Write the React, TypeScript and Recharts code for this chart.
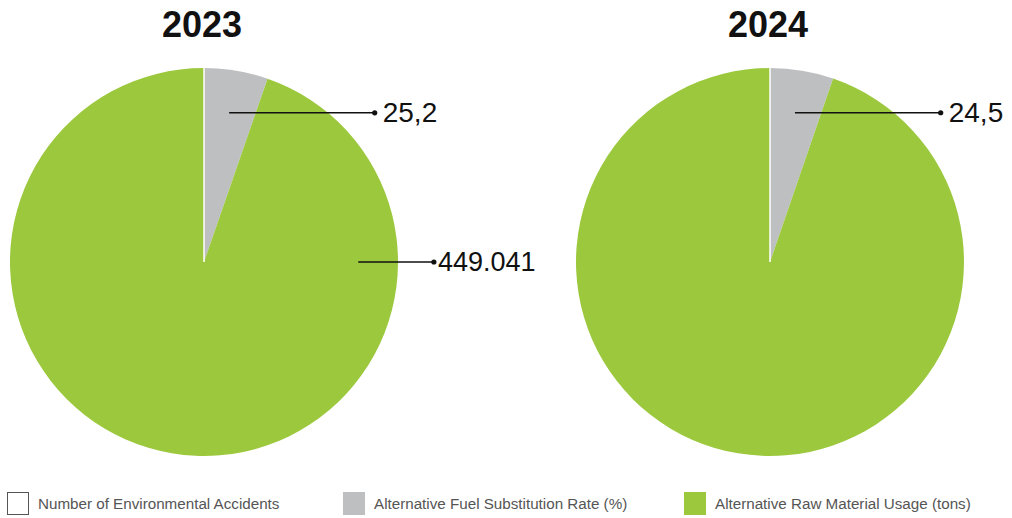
import React from "react";
import { PieChart, Pie, Cell } from "recharts";

const categories = [
  "Number of Environmental Accidents",
  "Alternative Fuel Substitution Rate (%)",
  "Alternative Raw Material Usage (tons)",
];
const years = ["2023", "2024"];
const values2023 = [0, 25.2, 449.041];
const values2024 = [0, 24.5, 440];
const labels2023 = ["", "25,2", "449.041"];
const labels2024 = ["", "24,5", ""];
const colors = ["#ffffff", "#bebfc1", "#9cc83d"];

const FONT = "'Liberation Sans', Arial, sans-serif";

const toData = (vals: number[]) =>
  categories.map((name, i) => ({ name, value: vals[i] }));

const RAD = Math.PI / 180;

function makeLabel(texts: string[]) {
  return (props: any) => {
    const { cx, cy, midAngle, outerRadius, index, startAngle } = props;
    if (index === 0) {
      const a = (startAngle ?? 90) * RAD;
      return (
        <line
          key="sep"
          x1={cx}
          y1={cy}
          x2={cx + outerRadius * Math.cos(a)}
          y2={cy - outerRadius * Math.sin(a)}
          stroke="#ffffff"
          strokeWidth={1.5}
        />
      );
    }
    const t = texts[index];
    if (!t) return null;
    let x1: number, y1: number, x2: number, tx: number;
    if (index === 1) {
      const r = outerRadius * 0.78;
      x1 = cx + r * Math.cos(midAngle * RAD);
      y1 = cy - r * Math.sin(midAngle * RAD);
      x2 = cx + outerRadius * 0.88;
      tx = x2 + 8;
    } else {
      x1 = cx + outerRadius * 0.795;
      y1 = cy;
      x2 = cx + outerRadius * 1.185;
      tx = x2 + 4;
    }
    return (
      <g key={`lbl-${index}`}>
        <line x1={x1} y1={y1} x2={x2} y2={y1} stroke="#111" strokeWidth={1.4} />
        <circle cx={x2} cy={y1} r={2.6} fill="#111" />
        <text
          x={tx}
          y={y1}
          dominantBaseline="central"
          fontFamily={FONT}
          fontSize={index === 1 ? 28 : 27}
          fill="#111"
        >
          {t}
        </text>
      </g>
    );
  };
}

export default function App() {
  const pies = [
    { cx: 204, data: toData(values2023), labels: labels2023 },
    { cx: 770, data: toData(values2024), labels: labels2024 },
  ];
  return (
    <div style={{ position: "absolute", left: 0, top: 0, width: 1012, height: 518, background: "#fff" }}>
      <PieChart width={1012} height={518} margin={{ top: 0, right: 0, bottom: 0, left: 0 }}>
        {pies.map((p, k) => (
          <Pie
            key={k}
            data={p.data}
            dataKey="value"
            nameKey="name"
            cx={p.cx}
            cy={262}
            outerRadius={194}
            innerRadius={0}
            startAngle={90}
            endAngle={-270}
            isAnimationActive={false}
            labelLine={false}
            label={makeLabel(p.labels)}
          >
            {p.data.map((d, i) => (
              <Cell
                key={i}
                fill={colors[i]}
                stroke={i === 0 ? "#ffffff" : "none"}
                strokeWidth={i === 0 ? 1.5 : 0}
              />
            ))}
          </Pie>
        ))}
        {pies.map((p, k) => (
          <text
            key={`t${k}`}
            x={p.cx - 2}
            y={37}
            textAnchor="middle"
            fontFamily={FONT}
            fontWeight="bold"
            fontSize={36}
            fill="#111"
          >
            {years[k]}
          </text>
        ))}
      </PieChart>
      {categories.map((c, i) => {
        const lefts = [7, 343, 684];
        return (
          <div
            key={c}
            style={{
              position: "absolute",
              left: lefts[i],
              top: 492,
              display: "flex",
              alignItems: "center",
              fontFamily: FONT,
              fontSize: 15.2,
              color: "#555",
              whiteSpace: "nowrap",
            }}
          >
            <div
              style={{
                width: i === 0 ? 20 : 22,
                height: i === 0 ? 21 : 23,
                background: colors[i],
                border: i === 0 ? "1px solid #555" : "none",
                marginRight: 9,
              }}
            />
            <span>{c}</span>
          </div>
        );
      })}
    </div>
  );
}
